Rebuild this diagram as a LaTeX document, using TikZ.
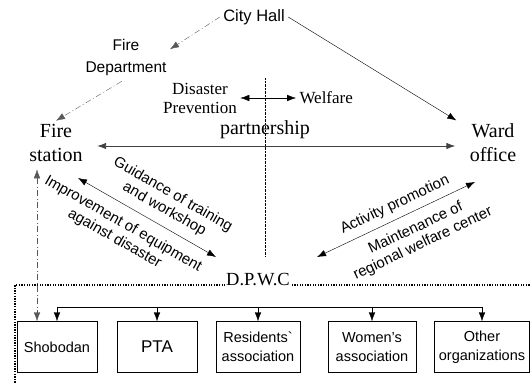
\documentclass[tikz,border=0pt]{standalone}
\usepackage{fontspec}
\setmainfont{Liberation Serif}
\setsansfont{Liberation Sans}
\usetikzlibrary{arrows.meta}

\begin{document}
\begin{tikzpicture}[
    x=1pt, y=-1pt,
    arr/.style={-{Latex[length=9pt,width=6.5pt]}},
    dbl/.style={{Latex[length=9pt,width=6.5pt]}-{Latex[length=9pt,width=6.5pt]}},
    dashdot/.style={draw=black!65, dash pattern=on 6pt off 2.5pt on 1pt off 2.5pt},
    sanslbl/.style={font=\sffamily\fontsize{15}{17}\selectfont, align=center},
    seriflbl/.style={font=\rmfamily\fontsize{20}{24}\selectfont, align=center},
    orgbox/.style={draw, rectangle, minimum height=51pt, inner sep=2pt, align=center,
        font=\sffamily\fontsize{14.5}{19}\selectfont}
    ]
    \useasboundingbox (0,0) rectangle (530,383);
    \clip (0,0) rectangle (530,383);

    \node[sanslbl, font=\sffamily\fontsize{16.5}{18}\selectfont] (city) at (254,17) {City Hall};
    \node[sanslbl, font=\sffamily\fontsize{15.5}{22}\selectfont] (firedept) at (126,57) {Fire\\Department};
    \node[seriflbl] (firest) at (56,143) {Fire\\station};
    \node[seriflbl] (ward) at (493,143) {Ward\\office};
    \node[seriflbl, font=\rmfamily\fontsize{17}{19}\selectfont] (disprev) at (200,98) {Disaster\\Prevention};
    \node[seriflbl, font=\rmfamily\fontsize{17}{19}\selectfont, anchor=west] (welfare) at (296,98) {Welfare};
    \node[seriflbl] (partner) at (265,130) {partnership};

    \node[orgbox, minimum width=80pt] (sho) at (57,347) {Shobodan};
    \node[orgbox, minimum width=80pt, font=\sffamily\fontsize{17}{19}\selectfont] (pta) at (157,347) {PTA};
    \node[orgbox, minimum width=84pt] (res) at (258,347) {Residents\textasciigrave\\association};
    \node[orgbox, minimum width=88pt] (wom) at (372,347) {Women's\\association};
    \node[orgbox, minimum width=95pt] (other) at (482,347) {Other\\organizations};

    \draw[line width=1.3pt, dash pattern=on 1.3pt off 1.3pt] (540,285) -| (15,395);
    \node[seriflbl, font=\rmfamily\fontsize{18.5}{20}\selectfont, fill=white, inner sep=1pt, anchor=base] (dpwc) at (258,285) {D.P.W.C};

    \draw[densely dotted] (265,78) -- (265,257);

    \draw[dashdot, arr] (city.west) -- (firedept.10);
    \draw[dashdot, arr, shorten <=5pt] (firedept.south) -- (firest.north);
    \draw[arr] (city.east) -- ([xshift=-10pt]ward.north west);
    \draw[dbl, line width=0.9pt, draw=black!75, shorten <=11pt, shorten >=11pt]
        ([yshift=-3pt]firest.east) -- ([yshift=-3pt]ward.west);
    \draw[dbl] (disprev.east) -- (welfare.west);

    \coordinate (trainA) at (78,178);
    \coordinate (trainB) at (216,257);
    \draw[dbl] (trainA) -- (trainB)
        node[sanslbl, sloped, pos=0.57, above=5pt] {Guidance of training\\and workshop}
        node[sanslbl, sloped, pos=0.39, below=7pt] {Improvement of equipment\\against disaster};

    \coordinate (actA) at (317,257);
    \coordinate (actB) at (475,182);
    \draw[dbl] (actA) -- (actB)
        node[sanslbl, sloped, pos=0.53, above=3pt] {Activity promotion}
        node[sanslbl, sloped, pos=0.58, below=6pt] {Maintenance of\\regional welfare center};

    \draw[dashdot, dbl] ([xshift=-19pt,yshift=-4pt]firest.south) -- ([xshift=-20pt]sho.north);

    \coordinate (bus) at (0,307);
    \draw (sho.north |- bus) -- (other.north |- bus);
    \foreach \org in {sho,pta,res,wom,other}
        \draw[arr] (\org.north |- bus) -- (\org.north);
\end{tikzpicture}
\end{document}
